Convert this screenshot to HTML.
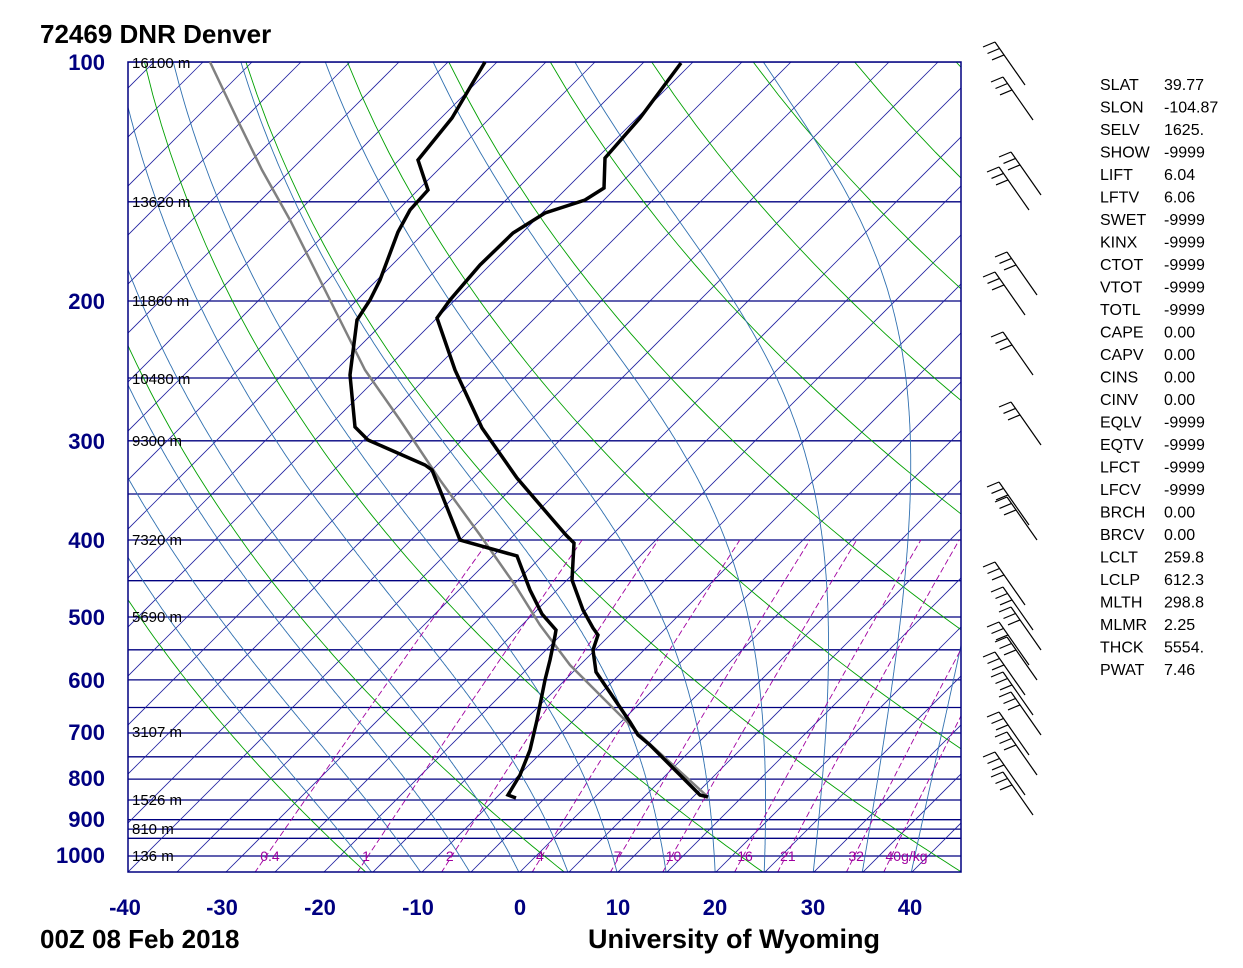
<!DOCTYPE html>
<html><head><meta charset="utf-8">
<style>
html,body{margin:0;padding:0;background:#fff;}
svg{display:block;}
text{font-family:"Liberation Sans",Arial,sans-serif;}
</style></head>
<body>
<svg id="s" width="1243" height="968" xmlns="http://www.w3.org/2000/svg">
<defs><clipPath id="c"><rect x="128" y="62" width="833" height="810"/></clipPath></defs>
<g id="grid" clip-path="url(#c)"></g>
<rect x="128" y="62" width="833" height="810" fill="none" stroke="#000080" stroke-width="1.5"/>
<g id="fg"></g>
<text x="40" y="43" font-size="26" font-weight="bold">72469 DNR Denver</text>
<text x="40" y="948" font-size="26" font-weight="bold">00Z 08 Feb 2018</text>
<text x="588" y="948" font-size="27" font-weight="bold">University of Wyoming</text>
<g font-size="22" font-weight="bold" fill="#000080" text-anchor="end">
<text x="105" y="70">100</text><text x="105" y="309">200</text><text x="105" y="449">300</text>
<text x="105" y="548">400</text><text x="105" y="625">500</text><text x="105" y="688">600</text>
<text x="105" y="740">700</text><text x="105" y="786">800</text><text x="105" y="827">900</text>
<text x="105" y="863">1000</text>
</g>
<g font-size="22" font-weight="bold" fill="#000080" text-anchor="middle">
<text x="125" y="915">-40</text><text x="222" y="915">-30</text><text x="320" y="915">-20</text>
<text x="418" y="915">-10</text><text x="520" y="915">0</text><text x="618" y="915">10</text>
<text x="715" y="915">20</text><text x="813" y="915">30</text><text x="910" y="915">40</text>
</g>
<g font-size="15" fill="#000">
<text x="132" y="68">16100 m</text><text x="132" y="207">13620 m</text><text x="132" y="306">11860 m</text>
<text x="132" y="384">10480 m</text><text x="132" y="446">9300 m</text><text x="132" y="545">7320 m</text>
<text x="132" y="622">5690 m</text><text x="132" y="737">3107 m</text><text x="132" y="805">1526 m</text>
<text x="132" y="834">810 m</text><text x="132" y="861">136 m</text>
</g>
<g font-size="16" fill="#000" id="idx"></g>
<g id="barbs" stroke="#000" stroke-width="1.2" fill="none"></g>
</svg>
<script>
const NS="http://www.w3.org/2000/svg";
const g=document.getElementById('grid'),fg=document.getElementById('fg');
function Y(p){return 62+794*Math.log10(p/100);}
function X(T,p){return 520+9.8*T+(872-Y(p));}
function line(pts,col,w,dash,par){const e=document.createElementNS(NS,'polyline');
e.setAttribute('points',pts.map(a=>a[0].toFixed(1)+','+a[1].toFixed(1)).join(' '));
e.setAttribute('fill','none');e.setAttribute('stroke',col);e.setAttribute('stroke-width',w);
if(dash)e.setAttribute('stroke-dasharray',dash);(par||g).appendChild(e);}
function txt(x,y,s,col,sz,par){const e=document.createElementNS(NS,'text');e.setAttribute('x',x);e.setAttribute('y',y);
e.setAttribute('fill',col);e.setAttribute('font-size',sz);e.textContent=s;(par||g).appendChild(e);}
const pl=[100,150,200,250,300,350,400,450,500,550,600,650,700,750,800,850,900,925,950,1000,1050];
pl.forEach(p=>line([[128,Y(p)],[961,Y(p)]],'#000080',1.3));
for(let T=-160;T<=50;T+=5){line([[X(T,1050),Y(1050)],[X(T,100),Y(100)]],'#2020a0',0.8);}
for(let th=254;th<=500;th+=20){const pts=[];for(let p=1050;p>=100;p-=10){pts.push([X(th*Math.pow(p/1000,0.286)-273.15,p),Y(p)]);}line(pts,'#00a000',0.9);}
function es(T){return 6.112*Math.exp(17.67*T/(T+243.5));}
function gm(T,p){const Tk=T+273.15,e=es(T),r=0.622*e/(p-e),L=2.5e6,Rd=287,cp=1004;
return (Rd*Tk+L*r)/(cp+L*L*r*0.622/(Rd*Tk*Tk))/p;}
for(let T0=-15;T0<=45;T0+=5){let T=T0,pts=[];for(let p=1050;p>=100;p-=2){pts.push([X(T,p),Y(p)]);T-=gm(T,p)*2;}line(pts,'#3070b0',0.9);}
const ws=[0.4,1,2,4,7,10,16,21,32,40];
ws.forEach(w=>{const pts=[];for(let p=1050;p>=400;p-=10){const e=w*p/(622+w),l=Math.log(e/6.112),Td=243.5*l/(17.67-l);pts.push([X(Td,p),Y(p)]);}
line(pts,'#a000a0',0.9,'6,3');
const e=w*1000/(622+w),l=Math.log(e/6.112),Td=243.5*l/(17.67-l);txt(X(Td,1000)-6,861,w+(w==40?'g/kg':''),'#a000a0',14);});
const Tp=[[708,797],[700,795],[650,745],[638,735],[630,722],[596,672],[593,650],[598,635],[593,628],[583,610],[572,580],[574,543],[566,535],[553,520],[517,478],[482,428],[455,370],[437,318],[450,300],[480,265],[513,233],[545,213],[585,200],[604,188],[605,158],[640,118],[681,63]];
const Dp=[[516,798],[508,795],[520,775],[530,750],[537,720],[545,680],[550,660],[555,636],[556,630],[542,614],[530,590],[517,556],[460,540],[440,490],[432,470],[425,465],[368,440],[355,427],[350,375],[357,320],[370,300],[380,280],[398,232],[410,210],[428,190],[418,160],[452,118],[485,62]];
const Pp=[[708,797],[640,735],[570,665],[540,625],[515,585],[480,535],[440,480],[400,420],[365,370],[345,330],[320,280],[290,220],[262,170],[240,125],[210,62]];
line(Pp,'#808080',2.5,null,fg);line(Tp,'#000',3.5,null,fg);line(Dp,'#000',3.5,null,fg);
const idx=[["SLAT","39.77"],["SLON","-104.87"],["SELV","1625."],["SHOW","-9999"],["LIFT","6.04"],["LFTV","6.06"],["SWET","-9999"],["KINX","-9999"],["CTOT","-9999"],["VTOT","-9999"],["TOTL","-9999"],["CAPE","0.00"],["CAPV","0.00"],["CINS","0.00"],["CINV","0.00"],["EQLV","-9999"],["EQTV","-9999"],["LFCT","-9999"],["LFCV","-9999"],["BRCH","0.00"],["BRCV","0.00"],["LCLT","259.8"],["LCLP","612.3"],["MLTH","298.8"],["MLMR","2.25"],["THCK","5554."],["PWAT","7.46"]];
const ig=document.getElementById('idx');
idx.forEach((a,i)=>{txt(1100,90+i*22.5,a[0],'#000',16,ig);txt(1164,90+i*22.5,a[1],'#000',16,ig);});
const bg=document.getElementById('barbs');
const by=[60,95,170,185,270,290,350,420,500,515,580,605,625,640,655,670,690,710,730,750,770,790];
by.forEach((y,i)=>{const x=1010+((i*7)%5)*4;line([[x-15,y-18],[x+15,y+25]],'#000',1.2,null,bg);
for(let k=0;k<3;k++){const t=k*0.15;const px=x-15+30*t,py=y-18+43*t;line([[px,py],[px-12,py+5]],'#000',1.2,null,bg);}});
</script>
</body></html>
